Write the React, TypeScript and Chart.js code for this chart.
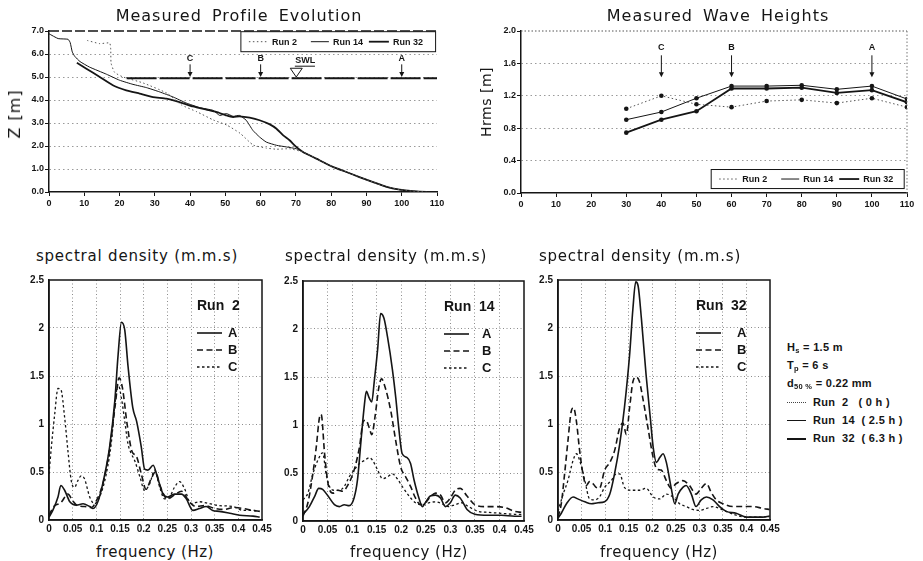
import React, { useEffect, useRef } from 'react';
import { Chart, registerables } from 'chart.js';

Chart.register(...registerables);

// ---------------- Measured profile (cross-shore x [m], elevation Z [m]) ----------------
const profileRun2X = [10.8, 14.4, 17.2, 17.5, 17.6, 18.6, 21, 26.7, 33.4, 37.6, 41.9, 46.6, 50.4, 54.2, 57.9, 61.6, 64.5, 68.2, 72, 75.8, 80.5, 84.3, 88, 91.9, 95.7, 99.4, 103, 107];
const profileRun2Z = [6.59, 6.45, 6.48, 6.2, 5.6, 5.2, 5.0, 4.74, 4.3, 3.78, 3.49, 3.13, 2.91, 2.55, 2.04, 1.91, 1.86, 1.88, 1.74, 1.45, 1.09, 0.87, 0.65, 0.43, 0.22, 0.1, 0.04, 0];
const profileRun14X = [0, 2.6, 5.4, 6, 6.6, 7.3, 8.8, 11.5, 16.3, 20, 23.8, 27.6, 31.4, 35.2, 38.9, 42.7, 46.5, 48.4, 50.3, 52.2, 54, 55.9, 57.8, 59.7, 61.6, 64.5, 67.3, 70.1, 72, 75.8, 80.5, 84.3, 88, 91.9, 95.7, 99.4, 103, 107];
const profileRun14Z = [6.88, 6.67, 6.64, 6.5, 6.09, 5.9, 5.67, 5.43, 5.12, 4.86, 4.68, 4.54, 4.35, 4.13, 3.87, 3.67, 3.55, 3.33, 3.41, 3.29, 3.33, 3.12, 2.68, 2.39, 2.17, 2.03, 1.96, 1.88, 1.74, 1.45, 1.09, 0.87, 0.65, 0.43, 0.22, 0.1, 0.04, 0];
const profileRun32X = [7.9, 10.6, 14.4, 18.1, 21.9, 25.7, 29.5, 33.3, 37, 40.8, 44.6, 47.4, 50.3, 52.2, 54, 56.9, 59.7, 62.6, 64.5, 66.4, 68.2, 70.1, 72, 75.8, 80.5, 84.3, 88, 91.9, 95.7, 99.4, 103, 107];
const profileRun32Z = [5.62, 5.36, 5.0, 4.64, 4.42, 4.28, 4.13, 4.06, 3.91, 3.72, 3.58, 3.48, 3.33, 3.26, 3.29, 3.23, 3.12, 2.94, 2.75, 2.46, 2.25, 1.96, 1.74, 1.45, 1.09, 0.87, 0.65, 0.43, 0.22, 0.1, 0.04, 0];
const swlX = [22, 110];
const swlZ = [4.95, 4.95];

// ---------------- Measured wave heights ----------------
const waveStations = [30, 40, 50, 60, 70, 80, 90, 100, 110];
const hrmsRun2 = [1.04, 1.2, 1.095, 1.06, 1.135, 1.15, 1.11, 1.17, 1.06];
const hrmsRun14 = [0.905, 1.0, 1.17, 1.32, 1.32, 1.33, 1.28, 1.32, 1.16];
const hrmsRun32 = [0.745, 0.905, 1.01, 1.29, 1.29, 1.3, 1.235, 1.27, 1.12];

const stationLabels = ['C', 'B', 'A'];
const stationX = [40, 60, 100];
const runNames = ['Run 2', 'Run 14', 'Run 32'];

// ---------------- Spectral densities ----------------
const r2A_f = [0, 0.008, 0.019, 0.025, 0.033, 0.044, 0.058, 0.072, 0.086, 0.093, 0.104, 0.118, 0.128, 0.139, 0.146, 0.153, 0.16, 0.167, 0.177, 0.185, 0.195, 0.202, 0.209, 0.22, 0.23, 0.241, 0.251, 0.265, 0.28, 0.29, 0.304, 0.318, 0.332, 0.346, 0.36, 0.382, 0.403, 0.431, 0.445];
const r2A_s = [0.03, 0.1, 0.24, 0.36, 0.31, 0.19, 0.155, 0.17, 0.14, 0.12, 0.2, 0.48, 0.76, 1.24, 1.72, 2.06, 1.98, 1.6, 1.17, 1.03, 0.76, 0.53, 0.52, 0.57, 0.43, 0.27, 0.24, 0.27, 0.27, 0.22, 0.1, 0.12, 0.14, 0.1, 0.09, 0.07, 0.05, 0.04, 0.03];
const r2B_f = [0, 0.01, 0.025, 0.04, 0.05, 0.06, 0.075, 0.09, 0.1, 0.115, 0.13, 0.14, 0.148, 0.155, 0.165, 0.175, 0.185, 0.195, 0.205, 0.215, 0.225, 0.235, 0.25, 0.265, 0.28, 0.295, 0.31, 0.33, 0.35, 0.37, 0.39, 0.41, 0.43, 0.445];
const r2B_s = [0.05, 0.14, 0.18, 0.27, 0.2, 0.15, 0.14, 0.13, 0.2, 0.4, 0.8, 1.2, 1.48, 1.38, 1.0, 0.72, 0.66, 0.48, 0.32, 0.42, 0.5, 0.35, 0.22, 0.26, 0.3, 0.2, 0.14, 0.15, 0.12, 0.11, 0.13, 0.12, 0.1, 0.09];
const r2C_f = [0, 0.005, 0.012, 0.019, 0.025, 0.033, 0.04, 0.047, 0.054, 0.061, 0.068, 0.075, 0.086, 0.096, 0.107, 0.121, 0.132, 0.139, 0.146, 0.153, 0.16, 0.167, 0.174, 0.181, 0.192, 0.202, 0.213, 0.223, 0.234, 0.244, 0.255, 0.265, 0.276, 0.286, 0.3, 0.318, 0.339, 0.36, 0.389, 0.41, 0.431, 0.445];
const r2C_s = [0.48, 0.76, 1.1, 1.37, 1.36, 1.07, 0.72, 0.41, 0.34, 0.41, 0.46, 0.43, 0.24, 0.17, 0.24, 0.48, 0.82, 1.2, 1.41, 1.27, 1.03, 0.79, 0.69, 0.62, 0.45, 0.31, 0.38, 0.52, 0.34, 0.22, 0.24, 0.34, 0.4, 0.33, 0.17, 0.19, 0.17, 0.15, 0.14, 0.1, 0.1, 0.09];

const r14A_f = [0, 0.013, 0.024, 0.032, 0.04, 0.051, 0.064, 0.074, 0.084, 0.094, 0.104, 0.111, 0.118, 0.125, 0.129, 0.135, 0.14, 0.145, 0.152, 0.158, 0.165, 0.172, 0.182, 0.189, 0.195, 0.202, 0.212, 0.219, 0.226, 0.236, 0.243, 0.249, 0.259, 0.27, 0.28, 0.29, 0.3, 0.31, 0.32, 0.334, 0.35, 0.377, 0.404, 0.431, 0.445];
const r14A_s = [0.07, 0.15, 0.26, 0.34, 0.33, 0.26, 0.17, 0.15, 0.17, 0.16, 0.24, 0.43, 0.83, 1.21, 1.35, 1.28, 1.24, 1.45, 1.79, 2.16, 2.11, 1.92, 1.58, 1.28, 0.97, 0.7, 0.66, 0.6, 0.43, 0.24, 0.15, 0.19, 0.26, 0.27, 0.24, 0.15, 0.19, 0.27, 0.24, 0.12, 0.07, 0.06, 0.06, 0.05, 0.05];
const r14B_f = [0, 0.01, 0.02, 0.027, 0.034, 0.037, 0.044, 0.051, 0.061, 0.071, 0.081, 0.091, 0.104, 0.115, 0.123, 0.128, 0.135, 0.14, 0.147, 0.154, 0.16, 0.168, 0.179, 0.189, 0.199, 0.209, 0.219, 0.229, 0.239, 0.249, 0.259, 0.27, 0.28, 0.29, 0.3, 0.31, 0.32, 0.334, 0.35, 0.371, 0.391, 0.411, 0.431, 0.445];
const r14B_s = [0.05, 0.19, 0.49, 0.77, 1.09, 1.11, 0.7, 0.39, 0.29, 0.32, 0.31, 0.37, 0.53, 0.77, 1.04, 1.05, 0.97, 0.9, 1.1, 1.38, 1.48, 1.38, 1.14, 0.83, 0.56, 0.46, 0.36, 0.24, 0.17, 0.19, 0.25, 0.29, 0.27, 0.19, 0.24, 0.32, 0.34, 0.26, 0.17, 0.15, 0.15, 0.14, 0.1, 0.09];
const r14C_f = [0, 0.01, 0.02, 0.03, 0.04, 0.047, 0.054, 0.064, 0.074, 0.084, 0.094, 0.104, 0.115, 0.125, 0.135, 0.142, 0.152, 0.162, 0.172, 0.182, 0.192, 0.202, 0.216, 0.229, 0.243, 0.256, 0.27, 0.283, 0.296, 0.31, 0.323, 0.337, 0.357, 0.377, 0.404, 0.431, 0.445];
const r14C_s = [0.22, 0.29, 0.49, 0.63, 0.71, 0.49, 0.36, 0.32, 0.32, 0.36, 0.46, 0.53, 0.6, 0.63, 0.66, 0.63, 0.53, 0.44, 0.46, 0.49, 0.44, 0.36, 0.26, 0.19, 0.17, 0.19, 0.2, 0.18, 0.15, 0.17, 0.19, 0.15, 0.1, 0.09, 0.08, 0.07, 0.07];

const r32A_f = [0, 0.007, 0.018, 0.032, 0.042, 0.057, 0.071, 0.085, 0.099, 0.11, 0.12, 0.131, 0.141, 0.152, 0.159, 0.165, 0.17, 0.177, 0.187, 0.196, 0.202, 0.209, 0.216, 0.223, 0.23, 0.24, 0.248, 0.255, 0.265, 0.272, 0.283, 0.293, 0.304, 0.315, 0.329, 0.343, 0.357, 0.378, 0.4, 0.414, 0.435, 0.449];
const r32A_s = [0.02, 0.07, 0.17, 0.24, 0.22, 0.19, 0.17, 0.18, 0.19, 0.27, 0.48, 0.79, 1.17, 1.72, 2.2, 2.48, 2.44, 2.1, 1.51, 1.06, 0.76, 0.6, 0.65, 0.69, 0.6, 0.34, 0.17, 0.27, 0.34, 0.36, 0.27, 0.14, 0.21, 0.24, 0.21, 0.14, 0.09, 0.07, 0.03, 0.03, 0.03, 0.04];
const r32B_f = [0, 0.007, 0.014, 0.021, 0.028, 0.033, 0.039, 0.046, 0.053, 0.06, 0.067, 0.074, 0.081, 0.088, 0.099, 0.11, 0.12, 0.131, 0.138, 0.145, 0.152, 0.159, 0.166, 0.173, 0.18, 0.191, 0.202, 0.21, 0.219, 0.23, 0.24, 0.251, 0.265, 0.279, 0.293, 0.304, 0.315, 0.325, 0.336, 0.35, 0.371, 0.392, 0.414, 0.435, 0.449];
const r32B_s = [0.03, 0.17, 0.48, 0.82, 1.13, 1.17, 1.03, 0.72, 0.48, 0.36, 0.4, 0.38, 0.34, 0.33, 0.52, 0.6, 0.72, 0.96, 1.01, 0.89, 1.17, 1.44, 1.49, 1.44, 1.27, 0.96, 0.65, 0.53, 0.52, 0.41, 0.33, 0.38, 0.41, 0.36, 0.27, 0.33, 0.38, 0.29, 0.21, 0.17, 0.14, 0.14, 0.14, 0.12, 0.11];
const r32C_f = [0, 0.011, 0.021, 0.032, 0.039, 0.046, 0.057, 0.067, 0.078, 0.088, 0.099, 0.113, 0.124, 0.131, 0.141, 0.156, 0.173, 0.187, 0.202, 0.216, 0.23, 0.244, 0.258, 0.272, 0.286, 0.3, 0.315, 0.329, 0.343, 0.357, 0.378, 0.4, 0.428, 0.449];
const r32C_s = [0.09, 0.27, 0.41, 0.62, 0.69, 0.62, 0.41, 0.22, 0.21, 0.24, 0.34, 0.41, 0.48, 0.48, 0.34, 0.31, 0.31, 0.33, 0.24, 0.22, 0.27, 0.24, 0.17, 0.14, 0.11, 0.1, 0.12, 0.14, 0.12, 0.09, 0.05, 0.03, 0.03, 0.04];

const spectrumLetters = ['A', 'B', 'C'];

// ---------------- Styles ----------------
const INK = '#151515';
const TICK_FAMILY = "'Liberation Sans', Arial, sans-serif";
const TITLE_FAMILY = "'DejaVu Sans', sans-serif";
const runStyles = [
  { color: '#555', width: 1, dash: [1.5, 2.5] },
  { color: INK, width: 1, dash: [] as number[] },
  { color: INK, width: 1.8, dash: [] as number[] },
];
const specStyles = [
  { color: INK, width: 1.6, dash: [] as number[] },
  { color: INK, width: 1.6, dash: [6, 3.5] },
  { color: INK, width: 1.3, dash: [2.5, 2.5] },
];

const pts = (xs: number[], ys: number[]) => xs.map((x, i) => ({ x, y: ys[i] }));

function buildOptions(p: any): any {
  const font = { family: TICK_FAMILY, size: p.fontSize, weight: 'bold' };
  const gc = (lo: number, hi: number) => (c: any) => {
    const v = c.tick ? c.tick.value : null;
    if (v === null || Math.abs(v - lo) < 1e-9 || Math.abs(v - hi) < 1e-9) return 'rgba(0,0,0,0)';
    return p.gridColor;
  };
  return {
    responsive: false,
    maintainAspectRatio: false,
    animation: false,
    devicePixelRatio: 1,
    events: [],
    layout: { padding: { left: 0, right: p.padR, top: p.padT, bottom: 0 } },
    plugins: { legend: { display: false }, tooltip: { enabled: false }, title: { display: false } },
    elements: { point: { radius: 0, hoverRadius: 0 } },
    scales: {
      x: {
        type: 'linear', min: p.x[0], max: p.x[1],
        afterFit: (s: any) => { s.height = p.xh; },
        ticks: { stepSize: p.x[2], autoSkip: false, maxRotation: 0, minRotation: 0, color: INK, font, padding: p.xPad, callback: (v: any) => p.fx(Number(v)) },
        grid: { drawOnChartArea: p.xGrid, drawTicks: p.tickLen > 0, tickLength: p.tickLen, tickColor: INK, tickWidth: 1, tickBorderDash: [], color: gc(p.x[0], p.x[1]), lineWidth: 1 },
        border: { display: true, color: INK, width: 1.5, dash: p.gridDash },
      },
      y: {
        type: 'linear', min: p.y[0], max: p.y[1],
        afterFit: (s: any) => { s.width = p.yw; },
        ticks: { stepSize: p.y[2], autoSkip: false, color: INK, font, padding: p.yPad, callback: (v: any) => p.fy(Number(v)) },
        grid: { drawOnChartArea: true, drawTicks: p.tickLen > 0, tickLength: p.tickLen, tickColor: INK, tickWidth: 1, tickBorderDash: [], color: gc(p.y[0], p.y[1]), lineWidth: 1 },
        border: { display: true, color: INK, width: 1.5, dash: p.gridDash },
      },
    },
  };
}

function seg(ctx: any, x0: number, y0: number, x1: number, y1: number, st: any) {
  ctx.save();
  ctx.strokeStyle = st.color;
  ctx.lineWidth = st.width;
  ctx.setLineDash(st.dash);
  ctx.beginPath();
  ctx.moveTo(x0, y0);
  ctx.lineTo(x1, y1);
  ctx.stroke();
  ctx.restore();
}

function arrowDown(ctx: any, px: number, y0: number, y1: number) {
  ctx.save();
  ctx.strokeStyle = INK;
  ctx.fillStyle = INK;
  ctx.lineWidth = 1;
  ctx.setLineDash([]);
  ctx.beginPath();
  ctx.moveTo(px, y0);
  ctx.lineTo(px, y1 - 4);
  ctx.stroke();
  ctx.beginPath();
  ctx.moveTo(px - 2.5, y1 - 5);
  ctx.lineTo(px + 2.5, y1 - 5);
  ctx.lineTo(px, y1);
  ctx.closePath();
  ctx.fill();
  ctx.restore();
}

function legendBox(ctx: any, left: number, top: number, right: number, bottom: number) {
  ctx.save();
  ctx.fillStyle = '#fff';
  ctx.fillRect(left, top, right - left, bottom - top);
  ctx.strokeStyle = INK;
  ctx.lineWidth = 1;
  ctx.setLineDash([]);
  ctx.strokeRect(left, top, right - left, bottom - top);
  const cy = (top + bottom) / 2;
  const offs = [[8, 26, 31], [70, 88, 92], [128, 148, 152]];
  ctx.fillStyle = INK;
  ctx.font = `bold 9px ${TICK_FAMILY}`;
  ctx.textBaseline = 'middle';
  ctx.textAlign = 'left';
  runNames.forEach((name, i) => {
    seg(ctx, left + offs[i][0], cy, left + offs[i][1], cy, runStyles[i]);
    ctx.fillText(name, left + offs[i][2], cy + 0.5);
  });
  ctx.restore();
}

const profileDecor = {
  id: 'profileDecor',
  afterDatasetsDraw(chart: any) {
    const { ctx, chartArea: a } = chart;
    const x = chart.scales.x;
    const y = chart.scales.y;
    ctx.save();
    seg(ctx, a.left, a.top, a.right, a.top, { color: INK, width: 1.5, dash: [10, 3] });
    ctx.fillStyle = INK;
    ctx.font = `bold 9px ${TICK_FAMILY}`;
    ctx.textAlign = 'center';
    ctx.textBaseline = 'middle';
    stationX.forEach((sx, i) => {
      const px = x.getPixelForValue(sx);
      arrowDown(ctx, px, y.getPixelForValue(5.55), y.getPixelForValue(5.0));
      ctx.fillText(stationLabels[i], px, y.getPixelForValue(5.8));
    });
    // SWL marker
    ctx.strokeStyle = INK;
    ctx.lineWidth = 1;
    ctx.beginPath();
    ctx.moveTo(x.getPixelForValue(68.4), y.getPixelForValue(5.38));
    ctx.lineTo(x.getPixelForValue(71.8), y.getPixelForValue(5.38));
    ctx.lineTo(x.getPixelForValue(70.1), y.getPixelForValue(5.0));
    ctx.closePath();
    ctx.stroke();
    ctx.textAlign = 'left';
    ctx.fillText('SWL', x.getPixelForValue(69.8), y.getPixelForValue(5.72));
    seg(ctx, x.getPixelForValue(69.7), y.getPixelForValue(5.47), x.getPixelForValue(75.4), y.getPixelForValue(5.47), { color: INK, width: 1, dash: [] });
    legendBox(ctx, x.getPixelForValue(54.4), y.getPixelForValue(6.97), x.getPixelForValue(109.6), y.getPixelForValue(6.1));
    ctx.restore();
  },
};

const waveDecor = {
  id: 'waveDecor',
  afterDatasetsDraw(chart: any) {
    const { ctx, chartArea: a } = chart;
    const x = chart.scales.x;
    const y = chart.scales.y;
    ctx.save();
    seg(ctx, a.left, a.top, a.right, a.top, { color: '#555', width: 1, dash: [1.5, 2] });
    seg(ctx, a.right, a.top, a.right, a.bottom, { color: '#777', width: 1, dash: [1.5, 2] });
    ctx.fillStyle = INK;
    ctx.font = `bold 9px ${TICK_FAMILY}`;
    ctx.textAlign = 'center';
    ctx.textBaseline = 'middle';
    stationX.forEach((sx, i) => {
      const px = x.getPixelForValue(sx);
      arrowDown(ctx, px, y.getPixelForValue(1.7), y.getPixelForValue(1.43));
      ctx.fillText(stationLabels[i], px, y.getPixelForValue(1.8));
    });
    legendBox(ctx, x.getPixelForValue(54.2), y.getPixelForValue(0.29), x.getPixelForValue(109.2), y.getPixelForValue(0.055));
    ctx.restore();
  },
};

function spectrumDecor(runLabel: string, labelOffset: number) {
  return {
    id: 'spectrumDecor',
    afterDatasetsDraw(chart: any) {
      const { ctx, chartArea: a } = chart;
      ctx.save();
      ctx.strokeStyle = INK;
      ctx.lineWidth = 1.5;
      ctx.setLineDash([]);
      ctx.strokeRect(a.left, a.top, a.right - a.left, a.bottom - a.top);
      ctx.fillStyle = INK;
      ctx.textBaseline = 'middle';
      ctx.textAlign = 'left';
      ctx.font = `bold 14px ${TICK_FAMILY}`;
      const lx = a.left + labelOffset;
      ctx.fillText(runLabel, lx, a.top + 26);
      ctx.font = `bold 13px ${TICK_FAMILY}`;
      spectrumLetters.forEach((letter, i) => {
        const yy = a.top + 53 + i * 17;
        seg(ctx, lx, yy, lx + 25, yy, specStyles[i]);
        ctx.fillText(letter, a.left + 179, yy + 0.5);
      });
      ctx.restore();
    },
  };
}

const fmtSpec = (v: number) => String(Number(v.toFixed(2)));

function spectrumConfig(series: number[][][], runLabel: string, labelOffset: number): any {
  return {
    type: 'line',
    data: {
      datasets: series.map(([f, s], i) => ({
        label: spectrumLetters[i],
        data: pts(f, s),
        borderColor: specStyles[i].color,
        borderWidth: specStyles[i].width,
        borderDash: specStyles[i].dash,
        cubicInterpolationMode: 'monotone',
        fill: false,
        pointRadius: 0,
      })),
    },
    options: buildOptions({
      x: [0, 0.45, 0.05], y: [0, 2.5, 0.5], fx: fmtSpec, fy: fmtSpec,
      xh: 22, yw: 32, padT: 8, padR: 14, xGrid: true, tickLen: 0, fontSize: 10,
      gridColor: '#8c8c8c', gridDash: [1, 2.5], xPad: 3, yPad: 5,
    }),
    plugins: [spectrumDecor(runLabel, labelOffset)],
  };
}

const lbl = (extra: any) => ({ position: 'absolute', whiteSpace: 'pre', lineHeight: 1, color: INK, transform: 'translate(-50%,-50%)', ...extra });

export default function App() {
  const c1 = useRef<HTMLCanvasElement>(null);
  const c2 = useRef<HTMLCanvasElement>(null);
  const c3 = useRef<HTMLCanvasElement>(null);
  const c4 = useRef<HTMLCanvasElement>(null);
  const c5 = useRef<HTMLCanvasElement>(null);

  useEffect(() => {
    const charts: Chart[] = [];
    const profileSets = [
      [profileRun2X, profileRun2Z],
      [profileRun14X, profileRun14Z],
      [profileRun32X, profileRun32Z],
    ];
    charts.push(new Chart(c1.current as HTMLCanvasElement, {
      type: 'line',
      data: {
        datasets: [
          {
            label: 'SWL', data: pts(swlX, swlZ), borderColor: INK, borderWidth: 2, borderDash: [30, 3], pointRadius: 0, fill: false,
          } as any,
          ...profileSets.map(([xs, zs], i) => ({
            label: runNames[i], data: pts(xs, zs), borderColor: runStyles[i].color, borderWidth: runStyles[i].width,
            borderDash: runStyles[i].dash, pointRadius: 0, fill: false, tension: 0.15,
          })),
        ],
      },
      options: buildOptions({
        x: [0, 110, 10], y: [0, 7, 1], fx: (v: number) => String(Math.round(v)), fy: (v: number) => v.toFixed(1),
        xh: 20, yw: 40, padT: 8, padR: 14, xGrid: false, tickLen: 4, fontSize: 9,
        gridColor: '#9a9a9a', gridDash: [1.5, 3], xPad: 2, yPad: 1,
      }),
      plugins: [profileDecor],
    } as any));

    const waveSets = [hrmsRun2, hrmsRun14, hrmsRun32];
    charts.push(new Chart(c2.current as HTMLCanvasElement, {
      type: 'line',
      data: {
        datasets: waveSets.map((h, i) => ({
          label: runNames[i], data: pts(waveStations, h), borderColor: runStyles[i].color, borderWidth: runStyles[i].width,
          borderDash: runStyles[i].dash, pointRadius: 2.3, pointBackgroundColor: INK, pointBorderWidth: 0, fill: false,
        })),
      },
      options: buildOptions({
        x: [0, 110, 10], y: [0, 2, 0.4], fx: (v: number) => String(Math.round(v)), fy: (v: number) => v.toFixed(1),
        xh: 20, yw: 32, padT: 8, padR: 12, xGrid: false, tickLen: 4, fontSize: 9,
        gridColor: '#9a9a9a', gridDash: [1.5, 3], xPad: 2, yPad: 1,
      }),
      plugins: [waveDecor],
    } as any));

    charts.push(new Chart(c3.current as HTMLCanvasElement, spectrumConfig([[r2A_f, r2A_s], [r2B_f, r2B_s], [r2C_f, r2C_s]], 'Run  2', 148)));
    charts.push(new Chart(c4.current as HTMLCanvasElement, spectrumConfig([[r14A_f, r14A_s], [r14B_f, r14B_s], [r14C_f, r14C_s]], 'Run  14', 141)));
    charts.push(new Chart(c5.current as HTMLCanvasElement, spectrumConfig([[r32A_f, r32A_s], [r32B_f, r32B_s], [r32C_f, r32C_s]], 'Run  32', 138)));

    return () => charts.forEach((c) => c.destroy());
  }, []);

  const cv = (ref: any, left: number, top: number, w: number, h: number) => (
    <canvas ref={ref} width={w} height={h} style={{ position: 'absolute', left, top, width: w, height: h }} />
  );

  const titleFont = { fontFamily: TITLE_FAMILY, fontSize: 16, letterSpacing: 1, wordSpacing: 4 };
  const specFont = { fontFamily: TITLE_FAMILY, fontSize: 15, letterSpacing: 0.8 };
  const freqFont = { fontFamily: TITLE_FAMILY, fontSize: 15, letterSpacing: 0.5 };
  const legFont: any = { fontFamily: TICK_FAMILY, fontSize: 11, fontWeight: 'bold', letterSpacing: 0.3, color: INK, whiteSpace: 'pre', height: 18.2, lineHeight: '18.2px' };
  const sub: any = { fontSize: 7.5, position: 'relative', top: 2 };
  const sample = (style: string) => (
    <span style={{ display: 'inline-block', width: 19, height: 0, borderTop: style, verticalAlign: 'middle', marginRight: 7 }} />
  );

  return (
    <div style={{ position: 'absolute', left: 0, top: 0, width: 923, height: 561, background: '#fff', overflow: 'hidden' }}>
      {cv(c1, 9, 23, 442, 189)}
      {cv(c2, 489, 23, 430, 190)}
      {cv(c3, 17, 269, 259, 273)}
      {cv(c4, 271, 270, 267, 273)}
      {cv(c5, 526, 269, 258, 273)}

      <div style={lbl({ left: 239, top: 16, ...titleFont })}>Measured Profile Evolution</div>
      <div style={lbl({ left: 718, top: 16, ...titleFont })}>Measured Wave Heights</div>
      <div style={lbl({ left: 15, top: 114, fontFamily: TITLE_FAMILY, fontSize: 16, letterSpacing: 1, transform: 'translate(-50%,-50%) rotate(-90deg)' })}>Z [m]</div>
      <div style={lbl({ left: 486, top: 102, fontFamily: TITLE_FAMILY, fontSize: 14, letterSpacing: 0.5, transform: 'translate(-50%,-50%) rotate(-90deg)' })}>Hrms [m]</div>

      <div style={lbl({ left: 137, top: 256, ...specFont })}>spectral density (m.m.s)</div>
      <div style={lbl({ left: 386, top: 256, ...specFont })}>spectral density (m.m.s)</div>
      <div style={lbl({ left: 640, top: 256, ...specFont })}>spectral density (m.m.s)</div>
      <div style={lbl({ left: 155, top: 552, ...freqFont })}>frequency (Hz)</div>
      <div style={lbl({ left: 409, top: 552, ...freqFont })}>frequency (Hz)</div>
      <div style={lbl({ left: 659, top: 552, ...freqFont })}>frequency (Hz)</div>

      <div style={{ position: 'absolute', left: 787, top: 338 }}>
        <div style={legFont}>H<span style={sub}>s</span> = 1.5 m</div>
        <div style={legFont}>T<span style={sub}>p</span> = 6 s</div>
        <div style={legFont}>d<span style={sub}>50 %</span> = 0.22 mm</div>
        <div style={legFont}>{sample('1px dotted #444')}Run  2   ( 0 h )</div>
        <div style={legFont}>{sample('1px solid #151515')}Run  14  ( 2.5 h )</div>
        <div style={legFont}>{sample('2px solid #151515')}Run  32  ( 6.3 h )</div>
      </div>
    </div>
  );
}
